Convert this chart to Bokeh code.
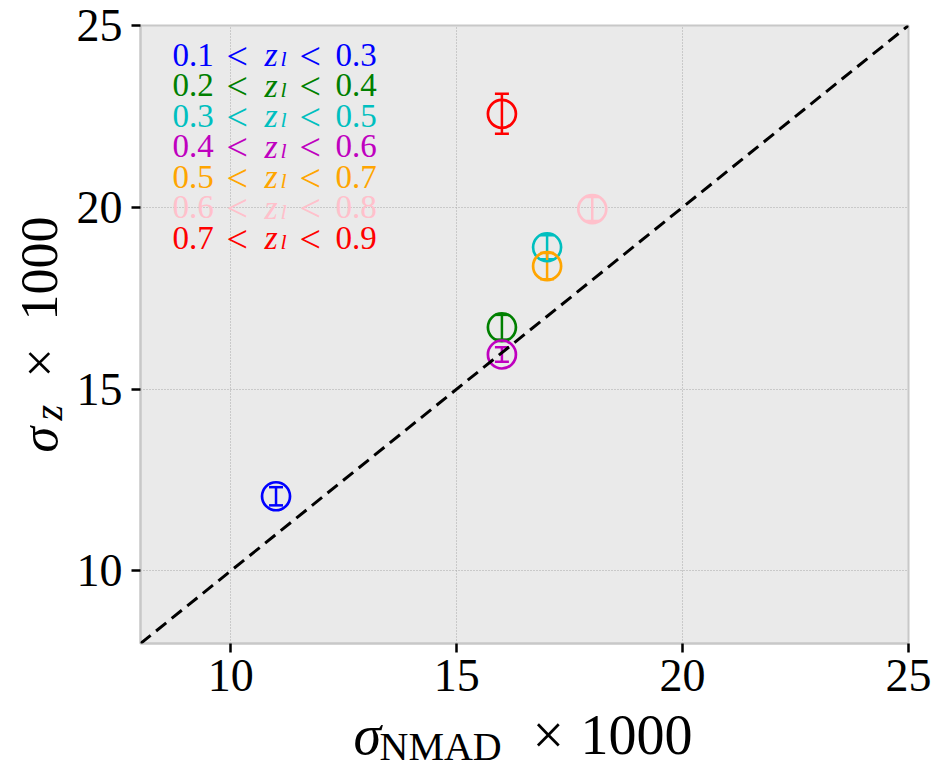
from math import pi
from bokeh.plotting import figure
from bokeh.layouts import row, column
from bokeh.models import (ColumnDataSource, Range1d, FixedTicker, Label,
                          Slope, Whisker, TeeHead)
from bokeh.embed import file_html
from bokeh.resources import INLINE

# ---------------- data ----------------
zl_lo = ["0.1", "0.2", "0.3", "0.4", "0.5", "0.6", "0.7"]
zl_hi = ["0.3", "0.4", "0.5", "0.6", "0.7", "0.8", "0.9"]
colors = ["#0000ff", "#008000", "#00bfbf", "#bf00bf", "#ffa500", "#ffc0cb", "#ff0000"]
sigma_nmad = [11.0, 16.0, 17.0, 16.0, 17.0, 18.0, 16.0]
sigma_z = [12.05, 16.70, 18.90, 15.95, 18.38, 19.95, 22.57]
sigma_z_err = [0.25, 0.34, 0.33, 0.20, 0.36, 0.33, 0.55]
x_ticks = [10, 15, 20, 25]
y_ticks = [10, 15, 20, 25]
x_lim = (8, 25)
y_lim = (8, 25)

SERIF = "Liberation Serif"
LEFT_W = 72      # width of the strip holding the y-axis title
MAIN_W = 860     # width of the main plot
MAIN_H = 705     # height of the main plot
BOT_H = 66       # height of the strip holding the x-axis title

p = figure(width=MAIN_W, height=MAIN_H, output_backend="svg", toolbar_location=None,
           x_range=Range1d(*x_lim), y_range=Range1d(*y_lim),
           min_border_left=68, min_border_right=24, min_border_top=25,
           min_border_bottom=62)
p.background_fill_color = "#eaeaea"
p.border_fill_color = "white"
p.outline_line_color = "#c8c8c8"
p.outline_line_width = 2

for ax in (p.xaxis[0], p.yaxis[0]):
    ax.axis_line_color = "#c8c8c8"
    ax.axis_line_width = 2
    ax.major_tick_line_color = "black"
    ax.major_tick_line_width = 2.5
    ax.major_tick_out = 9
    ax.major_tick_in = 0
    ax.minor_tick_line_color = None
    ax.major_label_text_font = SERIF
    ax.major_label_text_font_size = "46px"
    ax.major_label_text_color = "black"
p.xaxis[0].ticker = FixedTicker(ticks=x_ticks)
p.yaxis[0].ticker = FixedTicker(ticks=y_ticks)
p.xaxis[0].major_label_standoff = 7
p.yaxis[0].major_label_standoff = 9

for g in (p.xgrid[0], p.ygrid[0]):
    g.grid_line_color = "#a8a8a8"
    g.grid_line_width = 1
    g.grid_line_dash = "1 2"
p.xgrid[0].ticker = FixedTicker(ticks=x_ticks)
p.ygrid[0].ticker = FixedTicker(ticks=y_ticks)

# 1:1 line
p.add_layout(Slope(gradient=1, y_intercept=0, line_color="black",
                   line_width=3, line_dash="13 7"))

# points with error bars
for xv, yv, ev, c in zip(sigma_nmad, sigma_z, sigma_z_err, colors):
    src = ColumnDataSource(dict(x=[xv], y=[yv], upper=[yv + ev], lower=[yv - ev]))
    p.add_layout(Whisker(base="x", upper="upper", lower="lower", source=src,
                         dimension="height", line_color=c, line_width=2.5,
                         upper_head=TeeHead(size=14, line_color=c, line_width=2.5),
                         lower_head=TeeHead(size=14, line_color=c, line_width=2.5)))
    p.scatter("x", "y", source=src, marker="circle", size=28, fill_color=None,
              line_color=c, line_width=2.7)


def lab(fig, text, cx, cy, size, color="black", style="normal", angle=0.0):
    fig.add_layout(Label(x=cx, y=cy, x_units="canvas", y_units="canvas", text=text,
                         text_font=SERIF, text_font_size=size, text_color=color,
                         text_font_style=style, text_baseline="alphabetic",
                         text_align="left", angle=angle))


# legend-like colored text (canvas pixels of the main plot; page x - LEFT_W)
for i, (lo, hi, c) in enumerate(zip(zl_lo, zl_hi, colors)):
    cy = 54 + 30.5 * i
    lab(p, lo, 100, cy, "33px", c)
    lab(p, "<", 154, cy + 1, "38px", c)
    lab(p, "z", 192, cy, "34px", c, "italic")
    lab(p, "l", 208, cy + 4, "22px", c, "italic")
    lab(p, "<", 227, cy + 1, "38px", c)
    lab(p, hi, 263, cy, "33px", c)


def strip(w, h):
    f = figure(width=w, height=h, output_backend="svg", toolbar_location=None,
               x_range=Range1d(0, 1), y_range=Range1d(0, 1), min_border=0)
    f.axis.visible = False
    f.grid.visible = False
    f.outline_line_color = None
    f.background_fill_color = "white"
    f.border_fill_color = "white"
    return f


# y-axis title strip: sigma_z x 1000 (rotated)
yfig = strip(LEFT_W, MAIN_H + BOT_H)
lab(yfig, "σ", 39, 452, "52px", style="italic", angle=pi / 2)
lab(yfig, "z", 48, 420, "40px", style="italic", angle=pi / 2)
lab(yfig, "×", 39, 377, "52px", angle=pi / 2)
lab(yfig, "1000", 39, 320, "52px", angle=pi / 2)

# x-axis title strip: sigma_NMAD x 1000 (page x - LEFT_W)
xfig = strip(MAIN_W, BOT_H)
lab(xfig, "σ", 281, 29, "56px", style="italic")
lab(xfig, "NMAD", 307, 41, "40px")
lab(xfig, "×", 460, 29, "56px")
lab(xfig, "1000", 508, 29, "56px")

layout = row(yfig, column(p, xfig, spacing=0), spacing=0)
open("out.html", "w").write(file_html(layout, INLINE))
